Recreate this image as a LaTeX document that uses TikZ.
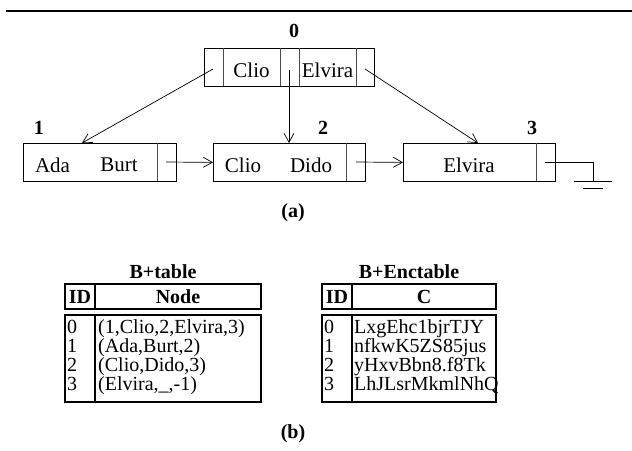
\documentclass[tikz,border=0pt]{standalone}
\usepackage{fontspec}
\setmainfont{Liberation Serif}
\usetikzlibrary{arrows.meta}
\begin{document}
\begin{tikzpicture}[x=1pt,y=-1pt,
  every node/.style={font=\fontsize{21}{21}\selectfont, inner sep=0pt},
  rec/.style={draw, line width=0.8pt, minimum height=38pt, anchor=north west},
  div/.style={draw=black!70, line width=0.8pt},
  ptr/.style={line width=0.7pt, -{Straight Barb[length=9pt,width=10pt]}},
  lab/.style={font=\fontsize{20}{20}\selectfont\bfseries},
  tb/.style={line width=2.6pt},
  cell/.style={anchor=base west, font=\fontsize{20}{20}\selectfont}]
\useasboundingbox (0,0) rectangle (632,450);
% top rule
\coordinate (r1) at (6,11); \coordinate (r2) at (632,11);
\draw[line width=2pt] (r1) -- (r2);

% node 0
\node[rec, minimum width=170pt] (n0) at (204,48) {};
\draw[div] (223,48) -- (223,86) (280,48) -- (280,86) (299,48) -- (299,86) (356,48) -- (356,86);
\node (t0a) at (251.5,70) {Clio};
\node (t0b) at (327.5,70) {Elvira};
\node[lab] (l0) at (294,31) {0};
\coordinate (p0a) at (213,69);
\coordinate (p0b) at (289,70);
\coordinate (p0c) at (365,69);

% node 1
\node[rec, minimum width=153pt] (n1) at (23,143) {};
\draw[div] (157,143) -- (157,181);
\node (t1a) at (52.5,165) {Ada};
\node (t1b) at (119,165) {Burt};
\node[lab] (l1) at (39,128) {1};
\coordinate (p1) at (166,162);
\coordinate (c1) at (82,143);

% node 2
\node[rec, minimum width=152pt] (n2) at (213,143) {};
\draw[div] (346,143) -- (346,181);
\node (t2a) at (243,165) {Clio};
\node (t2b) at (311,165) {Dido};
\node[lab] (l2) at (323,128) {2};
\coordinate (p2) at (356,162);
\coordinate (c2) at (289,143);

% node 3
\node[rec, minimum width=152pt] (n3) at (403,143) {};
\draw[div] (536,143) -- (536,181);
\node (t3a) at (469,165) {Elvira};
\node[lab] (l3) at (532,128) {3};
\coordinate (c3) at (478,143);
\coordinate (p3) at (545,162);
\coordinate (g0) at (593,162);
\coordinate (g1) at (593,181);
\coordinate (ga) at (574,181); \coordinate (gb) at (612,181);
\coordinate (gc) at (583,188); \coordinate (gd) at (603,188);

% connectors
\draw[ptr] (p0a) -- (c1);
\draw[ptr] (p0b) -- (c2);
\draw[ptr] (p0c) -- (c3);
\draw[ptr] (p1) -- (n2.west);
\draw[ptr] (p2) -- (n3.west);
\draw[line width=0.8pt] (p3) -- (g0) -- (g1);
\draw[line width=0.8pt] (ga) -- (gb);
\draw[line width=0.8pt] (gc) -- (gd);

\node[lab] (capa) at (293,213) {(a)};

% left table
\node[lab] (tt1) at (163,272) {B+table};
\draw[tb] (65,284) rectangle (261,309);
\draw[tb] (95,284) -- (95,309);
\node[lab] (h1a) at (80,297) {ID};
\node[lab] (h1b) at (178,297) {Node};
\draw[tb] (65,315) rectangle (261,402);
\draw[tb] (95,315) -- (95,402);
\node[cell] at (67,333) {0};
\node[cell] at (67,352) {1};
\node[cell] at (67,371) {2};
\node[cell] at (67,390) {3};
\node[cell] at (98,333) {(1,Clio,2,Elvira,3)};
\node[cell] at (98,352) {(Ada,Burt,2)};
\node[cell] at (98,371) {(Clio,Dido,3)};
\node[cell] at (98,390) {(Elvira,\_,-1)};

% right table
\node[lab] (tt2) at (409,272) {B+Enctable};
\draw[tb] (322,284) rectangle (496,309);
\draw[tb] (352,284) -- (352,309);
\node[lab] (h2a) at (337,297) {ID};
\node[lab] (h2b) at (424,297) {C};
\draw[tb] (322,315) rectangle (496,402);
\draw[tb] (352,315) -- (352,402);
\node[cell] at (324,333) {0};
\node[cell] at (324,352) {1};
\node[cell] at (324,371) {2};
\node[cell] at (324,390) {3};
\node[cell] at (354,333) {LxgEhc1bjrTJY};
\node[cell] at (354,352) {nfkwK5ZS85jus};
\node[cell] at (354,371) {yHxvBbn8.f8Tk};
\node[cell] at (354,390) {LhJLsrMkmlNhQ};

\node[lab] (capb) at (293,434) {(b)};
\end{tikzpicture}
\end{document}
